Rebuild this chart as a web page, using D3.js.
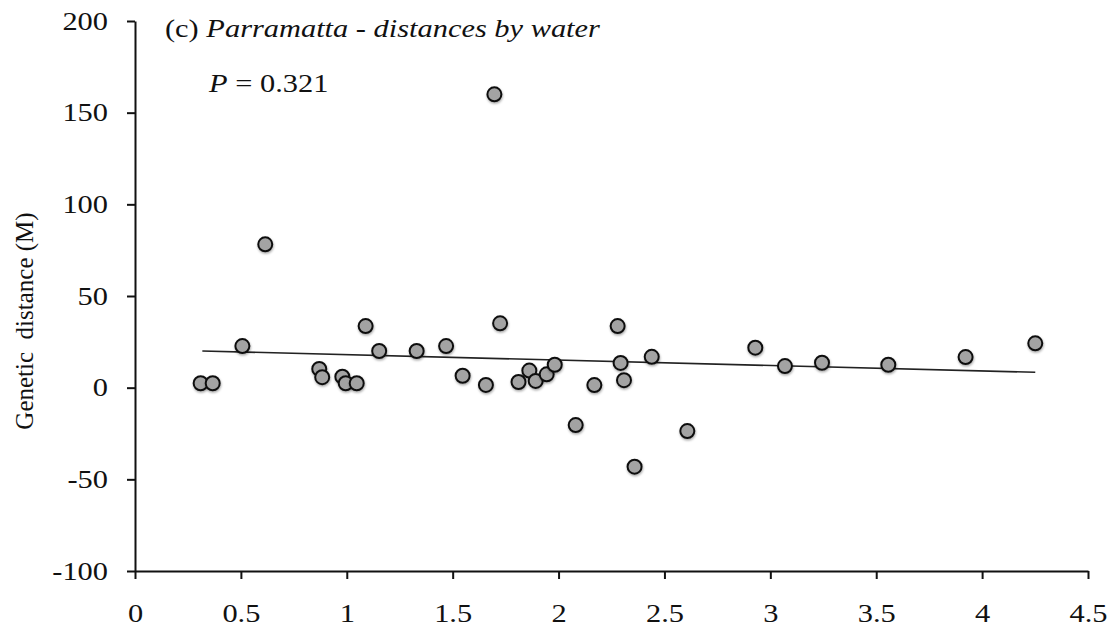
<!DOCTYPE html>
<html>
<head>
<meta charset="utf-8">
<script src="https://cdn.jsdelivr.net/npm/d3@7"></script>
<style>
    body { margin: 0; background: #fff; }
    .axis path, .axis line { stroke: #111; stroke-width: 2; }
</style>
</head>
<body>
<div id="chart"></div>
<script>
// distance by water vs genetic distance (M)
const waterDistance = [0.31, 0.367, 0.507, 0.615, 0.870, 0.884, 0.979, 0.995, 1.047, 1.089,
    1.153, 1.33, 1.469, 1.547, 1.657, 1.697, 1.724, 1.811, 1.862, 1.892,
    1.944, 1.982, 2.081, 2.169, 2.279, 2.293, 2.309, 2.359, 2.44, 2.608,
    2.929, 3.069, 3.244, 3.557, 3.922, 4.251];
const geneticDistance = [2.4, 2.4, 22.7, 78.2, 10.2, 5.7, 6.0, 2.4, 2.4, 33.6,
    20.0, 20.0, 22.7, 6.5, 1.5, 160.0, 35.1, 3.1, 9.3, 3.7,
    7.3, 12.5, -20.4, 1.4, 33.6, 13.5, 4.1, -43.1, 16.8, -23.7,
    21.8, 11.8, 13.6, 12.5, 16.7, 24.2];

const trendX = [0.318, 4.251];
const trendY = [20.0, 8.4];

const xTicks = [0, 0.5, 1, 1.5, 2, 2.5, 3, 3.5, 4, 4.5];
const yTicks = [-100, -50, 0, 50, 100, 150, 200];

const width = 1119,
    height = 632,
    margin = {top: 21, right: 31, bottom: 61, left: 135};

const serif = '"Liberation Serif", "Times New Roman", "DejaVu Serif", serif';
const fontSize = '26px';
const stretch = 1.17; // the source text is a bit wide

const svg = d3.select('#chart').append('svg')
    .attr('width', width)
    .attr('height', height);

const defs = svg.append('defs');
defs.append('filter')
    .attr('id', 'shadow')
    .attr('x', '-50%').attr('y', '-50%')
    .attr('width', '200%').attr('height', '200%')
    .append('feDropShadow')
    .attr('dx', 0.5)
    .attr('dy', 1.5)
    .attr('stdDeviation', 1.2)
    .attr('flood-color', '#000')
    .attr('flood-opacity', 0.35);

const xScale = d3.scaleLinear()
    .domain([0, 4.5])
    .range([margin.left, width - margin.right]);

const yScale = d3.scaleLinear()
    .domain([-100, 200])
    .range([height - margin.bottom, margin.top]);

const xAxis = d3.axisBottom(xScale)
    .tickValues(xTicks)
    .tickFormat(d => String(d))
    .tickSize(8)
    .tickSizeOuter(0)
    .tickPadding(25);

const yAxis = d3.axisLeft(yScale)
    .tickValues(yTicks)
    .tickFormat(d => String(d))
    .tickSize(8)
    .tickSizeOuter(0)
    .tickPadding(19);

const gX = svg.append('g')
    .attr('class', 'x axis')
    .attr('transform', 'translate(0,' + (height - margin.bottom) + ')')
    .call(xAxis);

const gY = svg.append('g')
    .attr('class', 'y axis')
    .attr('transform', 'translate(' + margin.left + ',0)')
    .call(yAxis);

svg.selectAll('.axis text')
    .style('font-family', serif)
    .style('font-size', fontSize)
    .attr('fill', '#111')
    .attr('transform', 'scale(' + stretch + ',1)');

gY.selectAll('text')
    .attr('x', -27 / stretch);

// y axis title
svg.append('text')
    .attr('transform', 'translate(33,321) rotate(-90)')
    .attr('text-anchor', 'middle')
    .attr('fill', '#111')
    .style('font-family', serif)
    .style('font-size', '25px')
    .text('Genetic\u00a0\u00a0distance (M)');

// trend line
const line = d3.line()
    .x(d => xScale(d[0]))
    .y(d => yScale(d[1]));

svg.append('path')
    .datum(d3.zip(trendX, trendY))
    .attr('fill', 'none')
    .attr('stroke', '#222')
    .attr('stroke-width', 1.6)
    .attr('d', line);

// points
svg.selectAll('.dot')
    .data(d3.zip(waterDistance, geneticDistance))
    .enter()
    .append('circle')
    .attr('class', 'dot')
    .attr('cx', d => xScale(d[0]))
    .attr('cy', d => yScale(d[1]))
    .attr('r', 7)
    .attr('fill', '#a3a3a3')
    .attr('stroke', '#111')
    .attr('stroke-width', 2)
    .attr('filter', 'url(#shadow)');

// panel title
const title = svg.append('text')
    .attr('transform', 'translate(165,37) scale(' + stretch + ',1)')
    .attr('fill', '#111')
    .style('font-family', serif)
    .style('font-size', fontSize);
title.append('tspan').text('(c) ');
title.append('tspan').style('font-style', 'italic').text('Parramatta - distances by water');

const pText = svg.append('text')
    .attr('transform', 'translate(209,92) scale(' + stretch + ',1)')
    .attr('fill', '#111')
    .style('font-family', serif)
    .style('font-size', fontSize);
pText.append('tspan').style('font-style', 'italic').text('P');
pText.append('tspan').text(' = 0.321');
</script>
</body>
</html>
